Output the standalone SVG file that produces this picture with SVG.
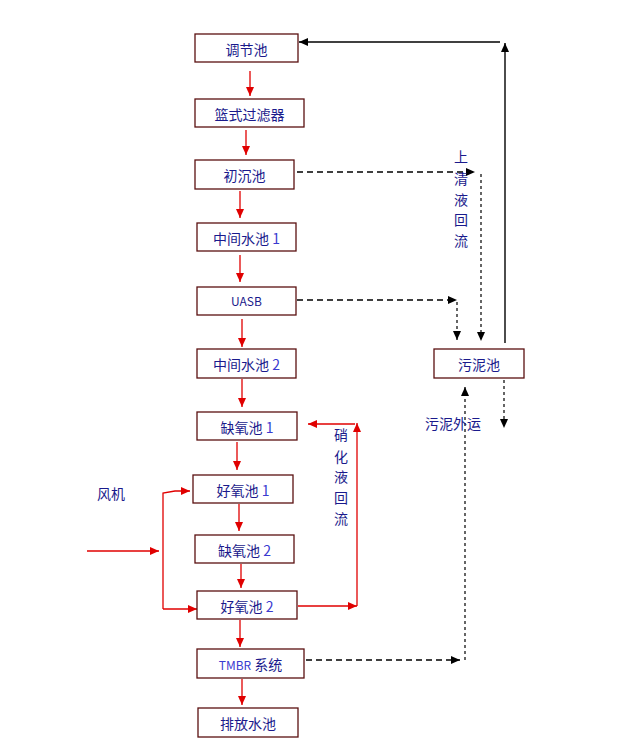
<svg xmlns="http://www.w3.org/2000/svg" width="619" height="753" viewBox="0 0 619 753">
<style>
.box{fill:#fff;stroke:#5a1010;stroke-width:1.3}
.t{font-family:"Noto Sans CJK SC","Microsoft YaHei",sans-serif;font-size:14px;fill:#1a1a8c;text-anchor:middle}
.n{fill:#3a3ad0}
.r{stroke:#e00000;stroke-width:1.3;fill:none}
.k{stroke:#000;stroke-width:1.4;fill:none}
.d{stroke:#000;stroke-width:1.4;fill:none;stroke-dasharray:6 4}
.ds{stroke:#000;stroke-width:1.2;fill:none;stroke-dasharray:3 3}
.lab{font-family:"Noto Sans CJK SC","Microsoft YaHei",sans-serif;font-size:14px;fill:#1a1a8c;text-anchor:middle}
</style>
<defs>
<marker id="ar" markerUnits="userSpaceOnUse" markerWidth="10" markerHeight="10" refX="9" refY="4" orient="auto"><path d="M0,0 L9,4 L0,8 z" fill="#e00000"/></marker>
<marker id="ak" markerUnits="userSpaceOnUse" markerWidth="10" markerHeight="10" refX="9" refY="4" orient="auto"><path d="M0,0 L9,4 L0,8 z" fill="#000"/></marker>
</defs>
<rect width="619" height="753" fill="#fff"/>
<g id="connectors">
<line class="r" x1="250" y1="71" x2="250" y2="96" marker-end="url(#ar)"/>
<line class="r" x1="246" y1="130" x2="246" y2="155" marker-end="url(#ar)"/>
<line class="r" x1="240" y1="191" x2="240" y2="218" marker-end="url(#ar)"/>
<line class="r" x1="240" y1="255" x2="240" y2="282" marker-end="url(#ar)"/>
<line class="r" x1="242" y1="319" x2="242" y2="347" marker-end="url(#ar)"/>
<line class="r" x1="242" y1="379" x2="242" y2="407" marker-end="url(#ar)"/>
<line class="r" x1="237" y1="442" x2="237" y2="470" marker-end="url(#ar)"/>
<line class="r" x1="239" y1="504" x2="239" y2="531" marker-end="url(#ar)"/>
<line class="r" x1="241" y1="564" x2="241" y2="588" marker-end="url(#ar)"/>
<line class="r" x1="240" y1="620" x2="240" y2="647" marker-end="url(#ar)"/>
<line class="r" x1="242" y1="679" x2="242" y2="705" marker-end="url(#ar)"/>
<line class="r" x1="87" y1="551" x2="159" y2="551" marker-end="url(#ar)"/>
<polyline class="r" points="163,609 163,493 175,491 190,491" marker-end="url(#ar)"/>
<polyline class="r" points="163,609 197,609" marker-end="url(#ar)"/>
<line class="r" x1="298" y1="606" x2="357" y2="606" marker-end="url(#ar)"/>
<line class="r" x1="357" y1="606" x2="357" y2="423" marker-end="url(#ar)"/>
<line class="r" x1="355" y1="424" x2="308" y2="424" marker-end="url(#ar)"/>
<line class="k" x1="500" y1="42" x2="299" y2="42" marker-end="url(#ak)"/>
<line class="k" x1="505" y1="343" x2="505" y2="43" marker-end="url(#ak)"/>
<line class="d" x1="297" y1="172" x2="475" y2="172" marker-end="url(#ak)"/>
<line class="ds" x1="481" y1="174" x2="481" y2="341" marker-end="url(#ak)"/>
<line class="d" x1="297" y1="300" x2="457" y2="300" marker-end="url(#ak)"/>
<line class="ds" x1="457" y1="302" x2="457" y2="340" marker-end="url(#ak)"/>
<line class="d" x1="306" y1="660" x2="460" y2="660" marker-end="url(#ak)"/>
<line class="ds" x1="465" y1="660" x2="465" y2="387" marker-end="url(#ak)"/>
<line class="ds" x1="504" y1="380" x2="504" y2="428" marker-end="url(#ak)"/>
</g>
<g id="n1"><rect class="box" x="195" y="34" width="103" height="28"/><text class="t" x="246.5" y="54.5">调节池</text></g>
<g id="n2"><rect class="box" x="195" y="99" width="109" height="28"/><text class="t" x="249.5" y="119.5">篮式过滤器</text></g>
<g id="n3"><rect class="box" x="195" y="160" width="99" height="29"/><text class="t" x="244.5" y="181">初沉池</text></g>
<g id="n4"><rect class="box" x="197" y="223" width="99" height="28"/><text class="t" x="246.5" y="243.5">中间水池 <tspan class="n">1</tspan></text></g>
<g id="n5"><rect class="box" x="197" y="287" width="99" height="28"/><text class="t" x="246.5" y="306" style="font-size:12px">UASB</text></g>
<g id="n6"><rect class="box" x="197" y="349" width="99" height="29"/><text class="t" x="246.5" y="370">中间水池 <tspan class="n">2</tspan></text></g>
<g id="n7"><rect class="box" x="197" y="412" width="100" height="28"/><text class="t" x="247" y="432.5">缺氧池 <tspan class="n">1</tspan></text></g>
<g id="n8"><rect class="box" x="193" y="475" width="100" height="28"/><text class="t" x="243" y="495.5">好氧池 <tspan class="n">1</tspan></text></g>
<g id="n9"><rect class="box" x="195" y="535" width="99" height="28"/><text class="t" x="244.5" y="555.5">缺氧池 <tspan class="n">2</tspan></text></g>
<g id="n10"><rect class="box" x="197" y="591" width="100" height="28"/><text class="t" x="247" y="611.5">好氧池 <tspan class="n">2</tspan></text></g>
<g id="n11"><rect class="box" x="197" y="649" width="107" height="29"/><text class="t" x="250.5" y="670"><tspan class="n" style="font-size:12px">TMBR</tspan> 系统</text></g>
<g id="n12"><rect class="box" x="198" y="708" width="100" height="29"/><text class="t" x="248" y="729">排放水池</text></g>
<g id="n13"><rect class="box" x="434" y="349" width="90" height="29"/><text class="t" x="479" y="370">污泥池</text></g>
<g id="labels">
<text class="lab" x="111" y="499">风机</text>
<text class="lab" x="453" y="429">污泥外运</text>
<text class="lab" x="461" y="162">上</text>
<text class="lab" x="461" y="184">清</text>
<text class="lab" x="461" y="205">液</text>
<text class="lab" x="461" y="225">回</text>
<text class="lab" x="461" y="246">流</text>
<text class="lab" x="341" y="440">硝</text>
<text class="lab" x="341" y="462">化</text>
<text class="lab" x="341" y="482">液</text>
<text class="lab" x="341" y="503">回</text>
<text class="lab" x="341" y="524">流</text>
</g>
</svg>
